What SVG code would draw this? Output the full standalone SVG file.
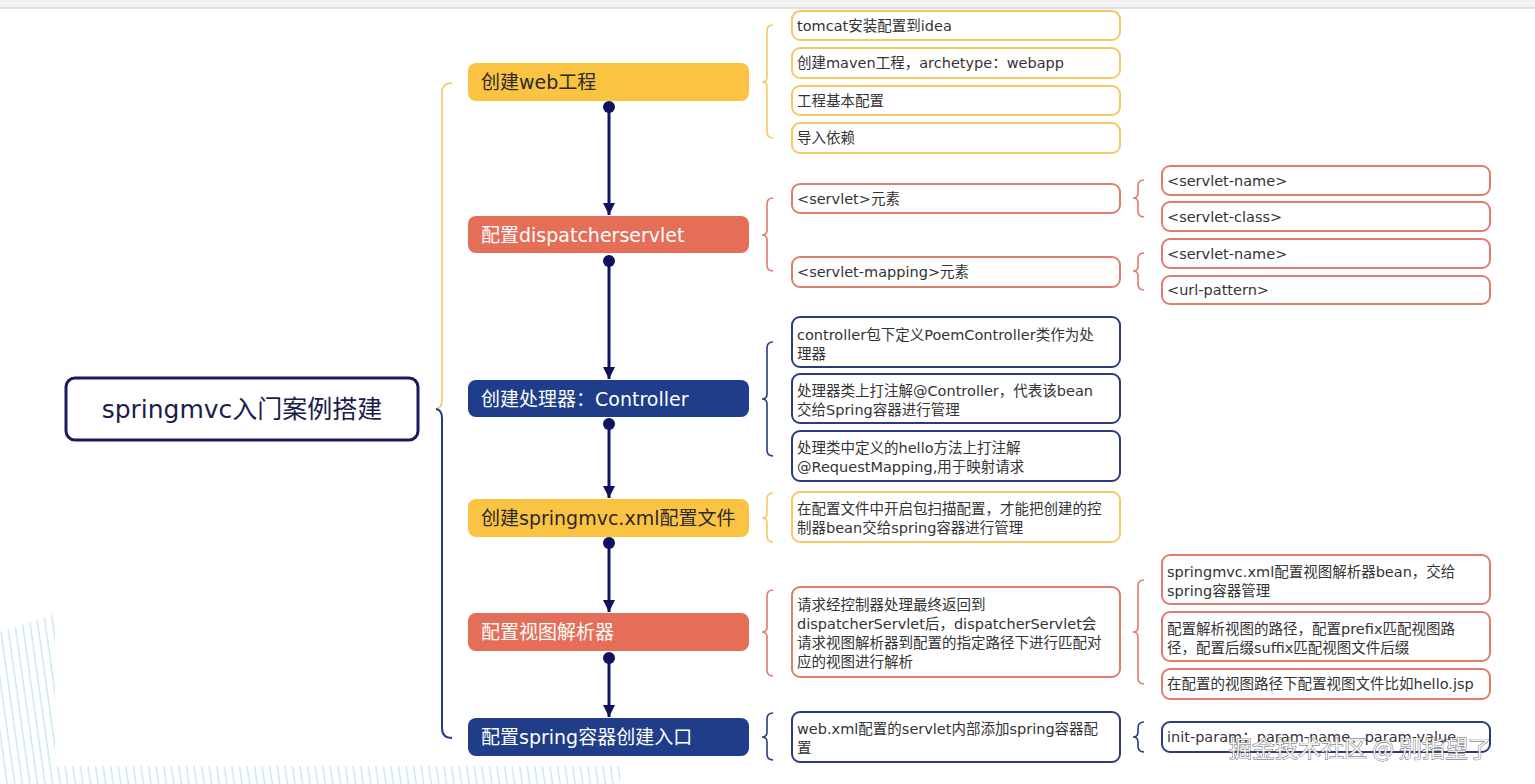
<svg xmlns="http://www.w3.org/2000/svg" width="1535" height="784" viewBox="0 0 1535 784">
<style>
text{font-family:"DejaVu Sans","Noto Sans CJK SC",sans-serif;}
.branch text{font-size:19px;}
.leaf text{font-size:14.5px;fill:#333;}
.dark{fill:#2a2a2a;}
.light{fill:#ffffff;}
.fy{fill:#FBC342;}
.fc{fill:#E56E58;}
.fn{fill:#1F3D88;}
.ly{fill:#fff;stroke:#F4C862;stroke-width:2;}
.lc{fill:#fff;stroke:#DE7E6C;stroke-width:2;}
.ln{fill:#fff;stroke:#2B3B7E;stroke-width:2;}
.by{fill:none;stroke:#F4C862;stroke-width:1.6;}
.bc{fill:none;stroke:#DE7E6C;stroke-width:1.6;}
.bn{fill:none;stroke:#2B3B7E;stroke-width:1.6;}
.conn line{stroke:#0F125E;stroke-width:3;}
.conn circle{fill:#0F125E;}
.stripe{stroke:#A6DCE6;stroke-width:1;}
</style>
<defs>
<marker id="arr" markerUnits="userSpaceOnUse" markerWidth="12" markerHeight="12" refX="12" refY="6" orient="auto">
<path d="M0,0 L12,6 L0,12 Z" fill="#0F125E"/>
</marker>
<pattern id="stripes" patternUnits="userSpaceOnUse" width="7.5" height="40" patternTransform="rotate(-8)">
<line x1="3" y1="0" x2="3" y2="40" class="stripe"/>
</pattern>
</defs>
<rect x="0" y="0" width="1535" height="784" fill="#ffffff"/>
<rect x="0" y="0" width="1535" height="7.5" fill="#f3f3f3"/>
<line x1="0" y1="8" x2="1535" y2="8" stroke="#c4c4c4" stroke-width="1"/>
<g id="decor">
<path d="M0 632 L55 614 L55 766 L620 766 L620 784 L0 784 Z" fill="url(#stripes)" opacity="0.9"/>
</g>
<g id="braces">
<path class="by" d="M452 83 Q442 83 442 93 L442 400 Q442 408 436 409" stroke-width="2"/>
<path d="M436 409 Q442 410 442 418 L442 728 Q442 738 452 738" fill="none" stroke="#1F3D88" stroke-width="2"/>
<path class="by" d="M773 25 Q767 25 767 31 L767 77 Q767 82 762 82 Q767 82 767 87 L767 132 Q767 138 773 138"/>
<path class="bc" d="M773 198 Q767 198 767 204 L767 230 Q767 235 762 235 Q767 235 767 240 L767 265 Q767 271 773 271"/>
<path class="bn" d="M773 342 Q767 342 767 348 L767 394 Q767 399 762 399 Q767 399 767 404 L767 450 Q767 456 773 456"/>
<path class="by" d="M773 493 Q767 493 767 499 L767 513 Q767 518 762 518 Q767 518 767 523 L767 536 Q767 542 773 542"/>
<path class="bc" d="M773 590 Q767 590 767 596 L767 627 Q767 632 762 632 Q767 632 767 637 L767 670 Q767 676 773 676"/>
<path class="bn" d="M773 713 Q767 713 767 719 L767 732 Q767 737 762 737 Q767 737 767 742 L767 754 Q767 760 773 760"/>
<path class="bc" d="M1144 180 Q1138 180 1138 186 L1138 193 Q1138 198 1133 198 Q1138 198 1138 203 L1138 211 Q1138 217 1144 217"/>
<path class="bc" d="M1144 253 Q1138 253 1138 259 L1138 266 Q1138 271 1133 271 Q1138 271 1138 276 L1138 284 Q1138 290 1144 290"/>
<path class="bc" d="M1144 580 Q1138 580 1138 586 L1138 627 Q1138 632 1133 632 Q1138 632 1138 637 L1138 678 Q1138 684 1144 684"/>
<path class="bn" d="M1144 722 Q1138 722 1138 728 L1138 732 Q1138 737 1133 737 Q1138 737 1138 742 L1138 746 Q1138 752 1144 752"/>
</g>
<g id="connectors" class="conn">
<line x1="609" y1="107" x2="609" y2="215" marker-end="url(#arr)"/><circle cx="609" cy="107" r="6"/>
<line x1="609" y1="261" x2="609" y2="379" marker-end="url(#arr)"/><circle cx="609" cy="261" r="6"/>
<line x1="609" y1="424" x2="609" y2="498" marker-end="url(#arr)"/><circle cx="609" cy="424" r="6"/>
<line x1="609" y1="543" x2="609" y2="612" marker-end="url(#arr)"/><circle cx="609" cy="543" r="6"/>
<line x1="609" y1="658" x2="609" y2="717" marker-end="url(#arr)"/><circle cx="609" cy="658" r="6"/>
</g>
<g id="root">
<rect x="66" y="378" width="352" height="62" rx="9" fill="#fff" stroke="#1B1B5B" stroke-width="3"/>
<text x="242" y="418" font-size="25" fill="#1B1B4B" text-anchor="middle">springmvc入门案例搭建</text>
</g>
<g id="b1" class="branch"><rect x="468" y="63" width="281" height="38" rx="8" class="fy"/><text x="481" y="89" class="dark">创建web工程</text></g>
<g id="b2" class="branch"><rect x="468" y="216" width="281" height="37" rx="8" class="fc"/><text x="481" y="242" class="light">配置dispatcherservlet</text></g>
<g id="b3" class="branch"><rect x="468" y="380" width="281" height="37" rx="8" class="fn"/><text x="481" y="406" class="light">创建处理器：Controller</text></g>
<g id="b4" class="branch"><rect x="468" y="499" width="281" height="38" rx="8" class="fy"/><text x="481" y="525" class="dark">创建springmvc.xml配置文件</text></g>
<g id="b5" class="branch"><rect x="468" y="613" width="281" height="38" rx="8" class="fc"/><text x="481" y="639" class="light">配置视图解析器</text></g>
<g id="b6" class="branch"><rect x="468" y="718" width="281" height="38" rx="8" class="fn"/><text x="481" y="744" class="light">配置spring容器创建入口</text></g>
<g id="l1" class="leaf"><rect x="792" y="11" width="328" height="29" rx="8" class="ly"/><text x="797" y="31">tomcat安装配置到idea</text></g>
<g id="l2" class="leaf"><rect x="792" y="48" width="328" height="30" rx="8" class="ly"/><text x="797" y="68">创建maven工程，archetype：webapp</text></g>
<g id="l3" class="leaf"><rect x="792" y="86" width="328" height="29" rx="8" class="ly"/><text x="797" y="106">工程基本配置</text></g>
<g id="l4" class="leaf"><rect x="792" y="123" width="328" height="30" rx="8" class="ly"/><text x="797" y="143">导入依赖</text></g>
<g id="l5" class="leaf"><rect x="792" y="184" width="328" height="29" rx="8" class="lc"/><text x="797" y="204">&lt;servlet&gt;元素</text></g>
<g id="l6" class="leaf"><rect x="792" y="257" width="328" height="30" rx="8" class="lc"/><text x="797" y="277">&lt;servlet-mapping&gt;元素</text></g>
<g id="l7" class="leaf"><rect x="1162" y="166" width="328" height="29" rx="8" class="lc"/><text x="1167" y="186">&lt;servlet-name&gt;</text></g>
<g id="l8" class="leaf"><rect x="1162" y="202" width="328" height="29" rx="8" class="lc"/><text x="1167" y="222">&lt;servlet-class&gt;</text></g>
<g id="l9" class="leaf"><rect x="1162" y="239" width="328" height="29" rx="8" class="lc"/><text x="1167" y="259">&lt;servlet-name&gt;</text></g>
<g id="l10" class="leaf"><rect x="1162" y="276" width="328" height="28" rx="8" class="lc"/><text x="1167" y="295">&lt;url-pattern&gt;</text></g>
<g id="l11" class="leaf"><rect x="792" y="317" width="328" height="50" rx="8" class="ln"/><text x="797" y="340">controller包下定义PoemController类作为处</text><text x="797" y="359">理器</text></g>
<g id="l12" class="leaf"><rect x="792" y="374" width="328" height="49" rx="8" class="ln"/><text x="797" y="396">处理器类上打注解@Controller，代表该bean</text><text x="797" y="415">交给Spring容器进行管理</text></g>
<g id="l13" class="leaf"><rect x="792" y="431" width="328" height="50" rx="8" class="ln"/><text x="797" y="453">处理类中定义的hello方法上打注解</text><text x="797" y="472">@RequestMapping,用于映射请求</text></g>
<g id="l14" class="leaf"><rect x="792" y="492" width="328" height="50" rx="8" class="ly"/><text x="797" y="514">在配置文件中开启包扫描配置，才能把创建的控</text><text x="797" y="533">制器bean交给spring容器进行管理</text></g>
<g id="l15" class="leaf"><rect x="792" y="587" width="328" height="90" rx="8" class="lc"/><text x="797" y="610">请求经控制器处理最终返回到</text><text x="797" y="629">dispatcherServlet后，dispatcherServlet会</text><text x="797" y="648">请求视图解析器到配置的指定路径下进行匹配对</text><text x="797" y="667">应的视图进行解析</text></g>
<g id="l16" class="leaf"><rect x="792" y="712" width="328" height="50" rx="8" class="ln"/><text x="797" y="734">web.xml配置的servlet内部添加spring容器配</text><text x="797" y="753">置</text></g>
<g id="l17" class="leaf"><rect x="1162" y="555" width="328" height="49" rx="8" class="lc"/><text x="1167" y="577">springmvc.xml配置视图解析器bean，交给</text><text x="1167" y="596">spring容器管理</text></g>
<g id="l18" class="leaf"><rect x="1162" y="612" width="328" height="49" rx="8" class="lc"/><text x="1167" y="634">配置解析视图的路径，配置prefix匹配视图路</text><text x="1167" y="653">径，配置后缀suffix匹配视图文件后缀</text></g>
<g id="l19" class="leaf"><rect x="1162" y="669" width="328" height="30" rx="8" class="lc"/><text x="1167" y="689">在配置的视图路径下配置视图文件比如hello.jsp</text></g>
<g id="l20" class="leaf"><rect x="1162" y="722" width="328" height="30" rx="8" class="ln"/><text x="1167" y="742">init-param：param-name、param-value</text></g>
<text x="1229" y="757" font-size="23" fill="#ffffff" fill-opacity="0.9" stroke="#555" stroke-width="0.8" paint-order="stroke" style="font-family:'Noto Sans CJK SC',sans-serif">掘金技术社区 @ 别指望了</text>
</svg>
